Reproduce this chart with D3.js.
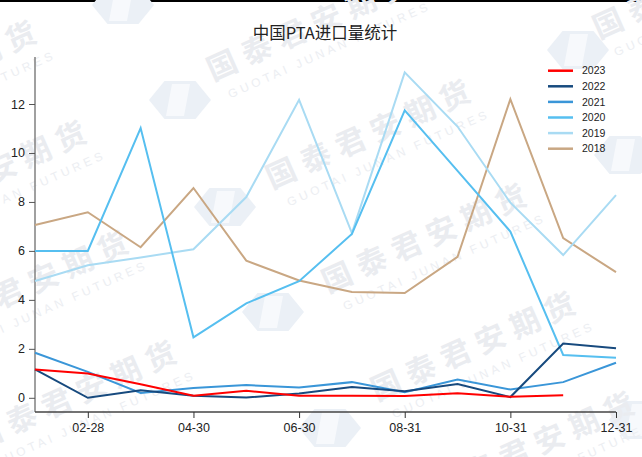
<!DOCTYPE html>
<html>
<head>
<meta charset="utf-8">
<script src="https://cdn.jsdelivr.net/npm/d3@7/dist/d3.min.js"></script>
<style>
html,body{margin:0;padding:0;background:#fff;}
svg{display:block;font-family:"Liberation Sans","Noto Sans CJK SC",sans-serif;}
</style>
</head>
<body>
<svg id="chart" width="642" height="457"></svg>
<script>
const title = "中国PTA进口量统计";
const months = ["01-31","02-28","03-31","04-30","05-31","06-30","07-31","08-31","09-30","10-31","11-30","12-31"];
const xTickLabels = ["02-28","04-30","06-30","08-31","10-31","12-31"];
const yTicks = [0,2,4,6,8,10,12];
const seriesNames = ["2023","2022","2021","2020","2019","2018"];
const seriesColors = ["#ff0000","#174a7e","#3a96d8","#56bff0","#a9dbf3","#c9a783"];
const v2023 = [1.16,0.99,0.55,0.08,0.29,0.08,0.08,0.07,0.19,0.04,0.10];
const v2022 = [1.16,0.00,0.31,0.08,0.01,0.18,0.44,0.27,0.56,0.03,2.22,2.02];
const v2021 = [1.84,1.06,0.20,0.40,0.52,0.42,0.64,0.23,0.75,0.34,0.64,1.43];
const v2020 = [6.00,6.00,11.02,2.47,3.86,4.76,6.69,11.74,9.27,6.79,1.75,1.64];
const v2019 = [4.77,5.41,5.73,6.07,8.20,12.17,6.73,13.29,11.08,7.97,5.83,8.28];
const v2018 = [7.06,7.58,6.15,8.57,5.60,4.79,4.32,4.28,5.76,12.20,6.52,5.13];
const seriesValues = [v2023,v2022,v2021,v2020,v2019,v2018];

// watermark (decorative) text and anchor spots
const wmText = "国泰君安期货";
const wmSub = "GUOTAI JUNAN FUTURES";
const wmSpots = [[-153,114],[-103,214],[-61,324],[-13,434],[222,65],[281,173],[337,277],[386,385],[445,485],[608,23]];
const logoSpots = [[123,5],[180,100],[225,207],[273,312],[330,428],[578,50],[625,155],[640,420]];

const svg = d3.select("#chart");
const x = d3.scalePoint().domain(months).range([35,616]);
const y = d3.scaleLinear().domain([-0.58,13.92]).range([412,57]);

// top border
svg.append("rect").attr("x",0).attr("y",0).attr("width",642).attr("height",2).attr("fill","#000");

// watermark layer
const wm = svg.append("g").attr("class","watermark");
logoSpots.forEach(([cx,cy])=>{
  const g = wm.append("g").attr("transform",`translate(${cx},${cy})`);
  const hex = d3.range(6).map(i=>{const a=Math.PI/3*i; return [31*Math.cos(a), 22*Math.sin(a)];});
  g.append("polygon").attr("points",hex.map(p=>p.join(",")).join(" ")).attr("fill","#ebf0f6");
  g.append("polygon").attr("points","-8,-16 10,-16 4,16 -14,16").attr("fill","#f7f9fc");
});
wmSpots.forEach(([cx,cy])=>{
  const g = wm.append("g").attr("transform",`translate(${cx},${cy}) rotate(-24)`);
  g.append("text").attr("x",-15).attr("y",11).attr("font-size",30).attr("font-weight","bold")
    .attr("letter-spacing",8).attr("fill","#eaecf0").attr("font-family","'Noto Sans CJK SC',sans-serif").text(wmText);
  g.append("text").attr("x",-6).attr("y",34).attr("font-size",12).attr("letter-spacing",3.6)
    .attr("fill","#eceef2").text(wmSub);
});

// title
svg.append("text").attr("x",325).attr("y",39).attr("text-anchor","middle")
  .attr("font-size",16.5).attr("fill","#222").attr("font-family","'Noto Sans CJK SC',sans-serif")
  .text(title);

// y axis
const yAxis = svg.append("g").attr("transform","translate(35,0)")
  .call(d3.axisLeft(y).tickValues(yTicks).tickSize(6).tickPadding(4).tickFormat(d3.format("d")));
yAxis.select(".domain").attr("d","M0,57V412").attr("stroke","#808080").attr("stroke-width",1.5);
yAxis.selectAll(".tick line").attr("stroke","#555");
yAxis.selectAll(".tick text").attr("font-size",12.5).attr("fill","#222").attr("font-family","'Liberation Sans',sans-serif");

// x axis
const xAxis = svg.append("g").attr("transform","translate(0,412)")
  .call(d3.axisBottom(x).tickValues(xTickLabels).tickSize(6).tickPadding(5));
xAxis.select(".domain").attr("d","M35,0H616").attr("stroke","#444").attr("stroke-width",1.5);
xAxis.selectAll(".tick line").attr("stroke","#333");
xAxis.selectAll(".tick text").attr("font-size",12.5).attr("fill","#222").attr("font-family","'Liberation Sans',sans-serif");

// lines (draw 2018 first so recent years on top)
const line = d3.line().x((d,i)=>x(months[i])).y(d=>y(d));
for (let k = seriesNames.length-1; k >= 0; k--) {
  svg.append("path").datum(seriesValues[k])
    .attr("fill","none").attr("stroke",seriesColors[k]).attr("stroke-width",2)
    .attr("stroke-linejoin","miter").attr("d",line);
}

// legend
const lg = svg.append("g");
seriesNames.forEach((n,i)=>{
  const yy = 70.7 + i*15.6;
  lg.append("line").attr("x1",548).attr("x2",573).attr("y1",yy).attr("y2",yy)
    .attr("stroke",seriesColors[i]).attr("stroke-width",2.5);
  lg.append("text").attr("x",582).attr("y",yy+3.7).attr("font-size",10.5).attr("fill","#222").text(n);
});
</script>
</body>
</html>
